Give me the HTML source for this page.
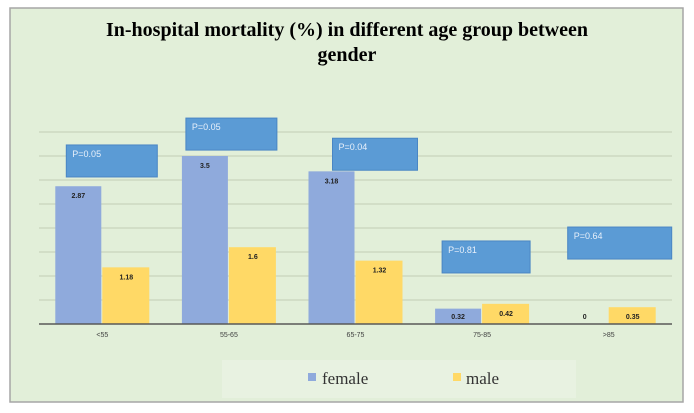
<!DOCTYPE html>
<html><head><meta charset="utf-8"><style>
body{margin:0;background:#fff}
svg{display:block}
</style></head><body>
<svg id="c" width="694" height="413" xmlns="http://www.w3.org/2000/svg">
<rect x="10" y="8" width="673" height="394" fill="#e2efd9" stroke="#a6a6a6" stroke-width="1.5"/>
<text x="347" y="36" text-anchor="middle" font-family="Liberation Serif, serif" font-weight="bold" font-size="20" fill="#000">In-hospital mortality (%) in different age group between</text>
<text x="347" y="61" text-anchor="middle" font-family="Liberation Serif, serif" font-weight="bold" font-size="20" fill="#000">gender</text>
<g id="grid"></g><g id="bars"></g><g id="boxes"></g>
<rect x="222" y="360" width="354" height="38" fill="#e8f2e1"/>
<rect x="308" y="373" width="8" height="8" fill="#8faadc"/>
<text x="322" y="384" font-family="Liberation Serif, serif" font-size="17" fill="#333">female</text>
<rect x="453" y="373" width="8" height="8" fill="#ffd966"/>
<text x="466" y="384" font-family="Liberation Serif, serif" font-size="17" fill="#333">male</text>
</svg>
<script>
const categories=["<55","55-65","65-75","75-85",">85"];
const female=[2.87,3.5,3.18,0.32,0];
const male=[1.18,1.6,1.32,0.42,0.35];
const pLabels=["P=0.05","P=0.05","P=0.04","P=0.81","P=0.64"];
const pLevels=[3.73,4.29,3.87,1.73,2.02];
const gridTicks=[0.5,1,1.5,2,2.5,3,3.5,4];
const NS="http://www.w3.org/2000/svg";
const x0=39,x1=672,base=324,ppu=48;
const bw=(x1-x0)/categories.length;
const boxDx=[-36,-43,-23,-40,-41];
const boxW=[91,91,85,88,104];
const y=v=>base-v*ppu;
function mk(t,a,p){const e=document.createElementNS(NS,t);for(const k in a)e.setAttribute(k,a[k]);p.appendChild(e);return e;}
const g=document.getElementById('grid'),b=document.getElementById('bars'),bx=document.getElementById('boxes');
gridTicks.forEach(v=>{const l=mk('line',{x1:x0,x2:x1,y1:y(v),y2:y(v),stroke:'#c8d3bd','stroke-width':1.3},g);

});
categories.forEach((c,i)=>{
 const cx=x0+bw*(i+0.5);
 const fr=mk('rect',{x:cx-47,y:y(female[i]),width:46,height:female[i]*ppu,fill:'#8faadc'},b);
 
 
 const mr=mk('rect',{x:cx,y:y(male[i]),width:47,height:male[i]*ppu,fill:'#ffd966'},b);
 
 
 const ft=mk('text',{x:cx-24,y:Math.min(y(female[i])+12,base-5),'text-anchor':'middle','font-family':'Liberation Sans, sans-serif','font-size':7,'font-weight':'bold',fill:'#222'},b);
 ft.textContent=female[i];
 
 
 const mt=mk('text',{x:cx+24,y:Math.min(y(male[i])+12,base-5),'text-anchor':'middle','font-family':'Liberation Sans, sans-serif','font-size':7,'font-weight':'bold',fill:'#222'},b);
 mt.textContent=male[i];
 
 
 const ct=mk('text',{x:cx,y:337,'text-anchor':'middle','font-family':'Liberation Sans, sans-serif','font-size':7,fill:'#404040'},b);
 ct.textContent=c;
 
 
 const by=y(pLevels[i]);
 const pr=mk('rect',{x:cx+boxDx[i],y:by,width:boxW[i],height:32,fill:'#5b9bd5',stroke:'#4a86c4','stroke-width':1},bx);
 
 
 const pt=mk('text',{x:cx+boxDx[i]+6,y:by+12,'font-family':'Liberation Sans, sans-serif','font-size':9,fill:'#e8f0fa'},bx);
 pt.textContent=pLabels[i];
 
 
});
const ax=mk('line',{x1:x0,x2:x1,y1:base,y2:base,stroke:'#595959','stroke-width':1.5},b);


</script>
</body></html>
